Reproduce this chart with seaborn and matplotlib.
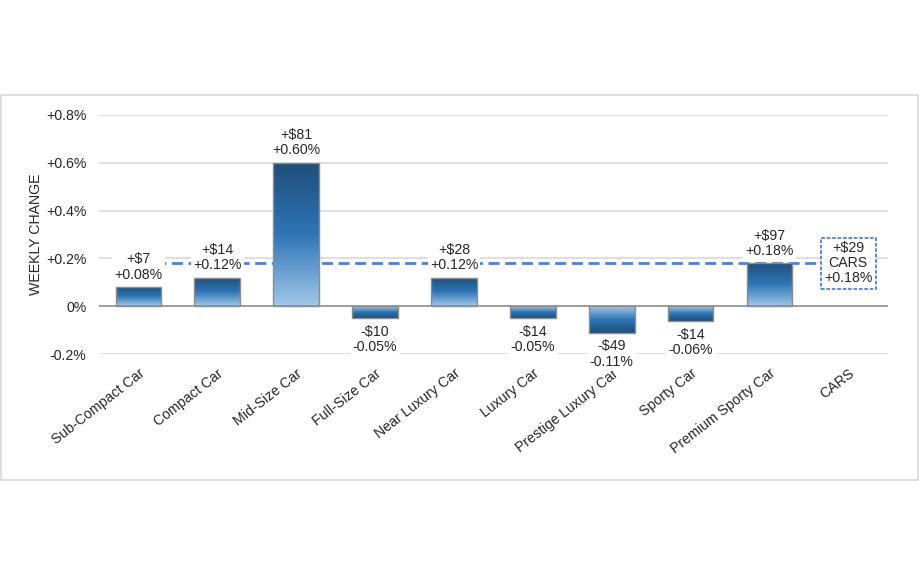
import matplotlib
matplotlib.use("Agg")
import matplotlib.pyplot as plt
import seaborn as sns
import numpy as np
import pandas as pd
from matplotlib.colors import LinearSegmentedColormap
from matplotlib.patches import Rectangle

categories = ["Sub-Compact Car", "Compact Car", "Mid-Size Car", "Full-Size Car",
              "Near Luxury Car", "Luxury Car", "Prestige Luxury Car", "Sporty Car",
              "Premium Sporty Car", "CARS"]
pct_change = [0.08, 0.12, 0.60, -0.05, 0.12, -0.05, -0.11, -0.06, 0.18, np.nan]
dollar_labels = ["+$7", "+$14", "+$81", "-$10", "+$28", "-$14", "-$49", "-$14", "+$97", "+$29"]
pct_labels = ["+0.08%", "+0.12%", "+0.60%", "-0.05%", "+0.12%", "-0.05%", "-0.11%", "-0.06%", "+0.18%", "+0.18%"]
overall_pct = 0.18
yticks = [-0.2, 0.0, 0.2, 0.4, 0.6, 0.8]
ytick_labels = ["-0.2%", "0%", "+0.2%", "+0.4%", "+0.6%", "+0.8%"]

sns.set_theme(style="white")
plt.rcParams['font.family'] = ['Liberation Sans', 'DejaVu Sans']

df = pd.DataFrame({"cat": categories, "pct": pct_change})

fig = plt.figure(figsize=(9.2, 5.75), dpi=100)
fig.patches.append(Rectangle((0.0015, 0.165), 0.996, 0.670, transform=fig.transFigure,
                             facecolor="none", edgecolor="#d9d9d9", linewidth=1.2))
ax = fig.add_axes([0.1076, 0.3843, 0.8574, 0.4157])

sns.barplot(data=df, x="cat", y="pct", ax=ax, width=0.58, color="#2e75b6",
            edgecolor="#8c8c8c", linewidth=1.0, zorder=3)

cmap = LinearSegmentedColormap.from_list("g", ["#a2c7e8", "#2e75b6", "#1f4e79"])
grad = np.linspace(0, 1, 256).reshape(-1, 1)
for p in ax.patches:
    x, y, w, h = p.get_x(), p.get_y(), p.get_width(), p.get_height()
    if not np.isfinite(h) or h == 0:
        continue
    if h > 0:
        arr = grad
        ext = [x, x + w, y, y + h]
    else:
        arr = grad[::-1]
        ext = [x, x + w, y + h, y]
    im = ax.imshow(arr, cmap=cmap, extent=ext, origin="lower", aspect="auto",
                   zorder=2.9, interpolation="bicubic")
    im.set_clip_path(p)
    p.set_facecolor("none")

# gridlines
for t in yticks:
    if t != 0:
        ax.axhline(t, color="#d9d9d9", linewidth=1.2, zorder=0)
ax.axhline(0, color="#8c8c8c", linewidth=1.2, zorder=4)

# overall dashed line
ax.plot([0, len(categories) - 1], [overall_pct, overall_pct], color="#4f7fd6",
        linestyle=(0, (4, 2)), linewidth=2.0, zorder=2)

FS = 10.2
# labels
for i, v in enumerate(pct_change):
    if not np.isfinite(v):
        continue
    txt = f"{dollar_labels[i]}\n{pct_labels[i]}"
    if v >= 0:
        ax.annotate(txt, (i, v), xytext=(0, 4), textcoords="offset points",
                    ha="center", va="bottom", fontsize=FS, color="#262626",
                    linespacing=1.1, zorder=6,
                    bbox=dict(facecolor="white", edgecolor="none", pad=1.5))
    else:
        ax.annotate(txt, (i, v), xytext=(0, -5), textcoords="offset points",
                    ha="center", va="top", fontsize=FS, color="#262626",
                    linespacing=1.1, zorder=6,
                    bbox=dict(facecolor="white", edgecolor="none", pad=1.5))

# CARS box
ax.text(len(categories) - 1, overall_pct,
        f"{dollar_labels[-1]}\nCARS\n{pct_labels[-1]}",
        ha="center", va="center", fontsize=FS, color="#262626", linespacing=1.1,
        zorder=7,
        bbox=dict(facecolor="white", edgecolor="#4f7fd6", linestyle=(0, (2, 1)),
                  linewidth=1.3, boxstyle="square,pad=0.25"))

ax.set_xlim(-0.5, len(categories) - 0.5)
ax.set_ylim(-0.2, 0.8)
ax.set_yticks(yticks)
ax.set_yticklabels(ytick_labels, fontsize=FS, color="#262626")
ax.set_xticks(range(len(categories)))
ax.set_xticklabels(categories, rotation=38, ha="right", va="top",
                   rotation_mode="anchor", fontsize=FS, color="#262626")
ax.tick_params(axis="y", length=0, pad=9)
ax.tick_params(axis="x", length=0, pad=9)
ax.set_xlabel("")
ax.set_ylabel("WEEKLY CHANGE", fontsize=FS, color="#262626")
ax.yaxis.set_label_coords(-0.071, 0.5)
for s in ax.spines.values():
    s.set_visible(False)

fig.savefig("out.png", dpi=100, facecolor="white")
